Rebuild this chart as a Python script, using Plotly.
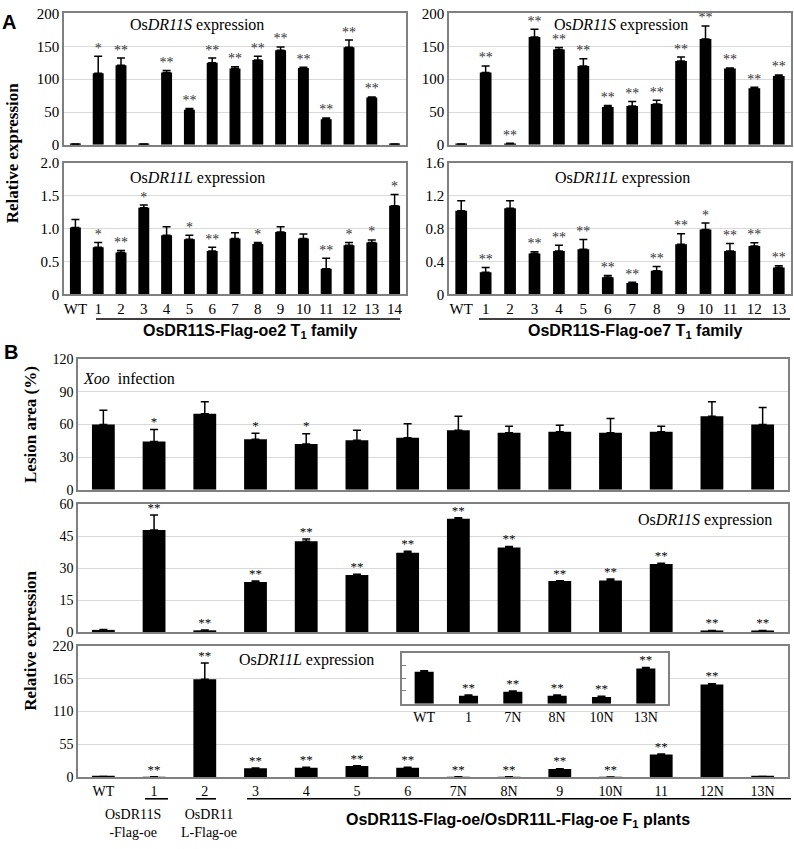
import plotly.graph_objects as go

W, H = 794, 849

# ---------------- Panel A data ----------------
oe2_cats = ["WT", "1", "2", "3", "4", "5", "6", "7", "8", "9", "10", "11", "12", "13", "14"]
oe2_s_val = [1, 109, 121, 1, 110, 53.5, 125, 116, 129, 144, 117, 39, 148.5, 72, 1]
oe2_s_err = [0.5, 26, 11, 0.3, 3, 2, 7, 3, 6, 5, 1, 2, 11, 1, 0.3]
oe2_s_sig = ["", "*", "**", "", "**", "**", "**", "**", "**", "**", "**", "**", "**", "**", ""]

oe2_l_val = [1.02, 0.72, 0.64, 1.32, 0.90, 0.84, 0.66, 0.85, 0.77, 0.95, 0.85, 0.39, 0.75, 0.79, 1.35]
oe2_l_err = [0.12, 0.07, 0.03, 0.04, 0.13, 0.06, 0.06, 0.09, 0.02, 0.08, 0.07, 0.16, 0.04, 0.04, 0.17]
oe2_l_sig = ["", "*", "**", "*", "", "*", "**", "", "*", "", "", "**", "*", "*", "*"]

oe7_cats = ["WT", "1", "2", "3", "4", "5", "6", "7", "8", "9", "10", "11", "12", "13"]
oe7_s_val = [1, 110, 2, 164, 145, 120, 57.5, 59, 62, 127.6, 161, 116, 86, 104.8]
oe7_s_err = [0.5, 10, 0.5, 12, 3, 11, 2.5, 7, 6, 6, 20, 1, 1.5, 1.5]
oe7_s_sig = ["", "**", "**", "**", "**", "**", "**", "**", "**", "**", "**", "**", "**", "**"]

oe7_l_val = [1.02, 0.27, 1.05, 0.50, 0.53, 0.55, 0.21, 0.14, 0.29, 0.61, 0.79, 0.53, 0.59, 0.33]
oe7_l_err = [0.12, 0.06, 0.09, 0.02, 0.07, 0.12, 0.02, 0.01, 0.05, 0.13, 0.08, 0.09, 0.04, 0.02]
oe7_l_sig = ["", "**", "", "**", "**", "**", "**", "**", "**", "**", "*", "**", "**", "**"]

# ---------------- Panel B data ----------------
b_cats = ["WT", "1", "2", "3", "4", "5", "6", "7N", "8N", "9", "10N", "11", "12N", "13N"]
b_lesion_val = [60, 44.4, 69.9, 46.5, 42, 45.6, 47.7, 54.6, 52.5, 53.4, 52.5, 53.4, 67.5, 60]
b_lesion_err = [13, 11, 11, 5.5, 9.6, 9, 13, 13, 6, 6, 13, 5, 13.5, 15.6]
b_lesion_sig = ["", "*", "", "*", "*", "", "", "", "", "", "", "", "", ""]

b_s_val = [1, 48, 0.8, 23.5, 42.7, 26.8, 37.3, 53.3, 39.8, 24, 24.2, 32, 0.6, 0.6]
b_s_err = [0.2, 7, 0.2, 0.5, 1, 0.4, 0.7, 0.4, 0.4, 0.1, 0.7, 0.3, 0.1, 0.1]
b_s_sig = ["", "**", "**", "**", "**", "**", "**", "**", "**", "**", "**", "**", "**", "**"]

b_l_val = [1, 0.5, 164, 15, 16, 18.6, 16, 0.5, 0.5, 13.8, 0.4, 38, 155, 1]
b_l_err = [0.3, 0.1, 27, 0.5, 0.5, 0.5, 0.5, 0.1, 0.1, 0.5, 0.1, 0.7, 1.5, 0.2]
b_l_sig = ["", "**", "**", "**", "**", "**", "**", "**", "**", "**", "**", "**", "**", ""]

inset_cats = ["WT", "1", "7N", "8N", "10N", "13N"]
inset_val = [1.0, 0.25, 0.37, 0.25, 0.21, 1.1]
inset_err = [0.03, 0.02, 0.03, 0.02, 0.02, 0.03]
inset_sig = ["", "**", "**", "**", "**", "**"]

# tick labels
a_s_ticks = [0, 50, 100, 150, 200]
oe2_l_ticks = [0, 0.5, 1.0, 1.5, 2.0]
oe2_l_ticktext = ["0", "0.5", "1.0", "1.5", "2.0"]
oe7_l_ticks = [0, 0.4, 0.8, 1.2, 1.6]
oe7_l_ticktext = ["0", "0.4", "0.8", "1.2", "1.6"]
b_lesion_ticks = [0, 30, 60, 90, 120]
b_s_ticks = [0, 15, 30, 45, 60]
b_l_ticks = [0, 55, 110, 165, 220]
inset_ticks = [0, 0.4, 0.8, 1.2, 1.6]

SERIF = "Liberation Serif, Times New Roman, serif"
NARROW = "Liberation Sans Narrow, Arial Narrow, Liberation Sans, sans-serif"
SANS = "Liberation Sans, Arial, sans-serif"
LINE = "#808080"
GRID = "#d9d9d9"


def px(x):
    return x / W


def py(y):
    return 1 - y / H


fig = go.Figure()
layout_axes = {}


def add_panel(i, cats, vals, errs, sigs, xdom, ydom, yrange, tickvals, ticktext=None,
              showx=False, barw=0.48, star_color="#333333", star_size=14,
              grid=True, tickfs=15, show_yticklabels=True):
    xa = "x" if i == 1 else f"x{i}"
    ya = "y" if i == 1 else f"y{i}"
    fig.add_trace(go.Bar(
        x=cats, y=vals, xaxis=xa, yaxis=ya, width=barw,
        marker=dict(color="black", line=dict(width=0)),
        error_y=dict(type="data", symmetric=False, array=errs, arrayminus=[0] * len(errs),
                     color="black", thickness=1.5, width=4),
        showlegend=False, hoverinfo="x+y",
    ))
    # significance marks only where present
    sx = [c for c, s in zip(cats, sigs) if s]
    sy = [v + e for v, e, s in zip(vals, errs, sigs) if s]
    st = [s for s in sigs if s]
    fig.add_trace(go.Scatter(
        x=sx, y=sy, xaxis=xa, yaxis=ya, mode="text", text=st,
        textposition="top center", cliponaxis=False,
        textfont=dict(family=SERIF, size=star_size, color=star_color),
        showlegend=False, hoverinfo="skip",
    ))
    xkey = "xaxis" if i == 1 else f"xaxis{i}"
    ykey = "yaxis" if i == 1 else f"yaxis{i}"
    layout_axes[xkey] = dict(
        domain=[px(xdom[0]), px(xdom[1])], anchor=ya, type="category",
        categoryorder="array", categoryarray=cats, range=[-0.5, len(cats) - 0.5],
        showline=True, mirror=True, linecolor=LINE, linewidth=1.5,
        showgrid=False, ticks="", showticklabels=showx,
        tickfont=dict(family=SERIF, size=tickfs, color="black"), fixedrange=True,
    )
    layout_axes[ykey] = dict(
        domain=[py(ydom[1]), py(ydom[0])], anchor=xa, range=yrange,
        tickvals=tickvals, ticktext=ticktext if ticktext else [str(t) for t in tickvals],
        showline=True, mirror=True, linecolor=LINE, linewidth=1.5,
        showgrid=grid, gridcolor=GRID, gridwidth=1, zeroline=False, ticks="",
        showticklabels=show_yticklabels,
        tickfont=dict(family=SERIF, size=tickfs, color="black"), fixedrange=True,
    )


# Panel A
add_panel(1, oe2_cats, oe2_s_val, oe2_s_err, oe2_s_sig, (64, 406), (5.5, 139.5), [0, 200], a_s_ticks)
add_panel(2, oe7_cats, oe7_s_val, oe7_s_err, oe7_s_sig, (449, 791), (5.5, 139.5), [0, 200], a_s_ticks)
add_panel(3, oe2_cats, oe2_l_val, oe2_l_err, oe2_l_sig, (64, 406), (158, 292), [0, 2.0],
          oe2_l_ticks, oe2_l_ticktext, showx=True)
add_panel(4, oe7_cats, oe7_l_val, oe7_l_err, oe7_l_sig, (449, 791), (158, 292), [0, 1.6],
          oe7_l_ticks, oe7_l_ticktext, showx=True)
# Panel B
add_panel(5, b_cats, b_lesion_val, b_lesion_err, b_lesion_sig, (78, 788), (358, 491), [0, 120],
          b_lesion_ticks, barw=0.45, star_color="black", star_size=13, tickfs=14)
add_panel(6, b_cats, b_s_val, b_s_err, b_s_sig, (78, 788), (506, 636), [0, 60],
          b_s_ticks, barw=0.45, star_color="black", star_size=13, tickfs=14)
add_panel(7, b_cats, b_l_val, b_l_err, b_l_sig, (78, 788), (650, 784), [0, 220],
          b_l_ticks, showx=True, barw=0.45, star_color="black", star_size=13, tickfs=14)
add_panel(8, inset_cats, inset_val, inset_err, inset_sig, (402, 668), (657, 709), [0, 1.6],
          inset_ticks, showx=True, barw=0.43, star_color="black", star_size=13,
          grid=False, show_yticklabels=False, tickfs=14)
layout_axes["yaxis8"].update(ticks="inside", ticklen=4, tickcolor=LINE)

fig.update_layout(**layout_axes)

shapes = []
# white background for inset (covers main panel gridlines)
shapes.append(dict(type="rect", xref="x8 domain", yref="y8 domain", x0=0, x1=1, y0=0, y1=1,
                   fillcolor="white", line=dict(width=0), layer="below"))
# underlines
for (x0, x1, y) in [(96, 400, 317), (479, 790, 317), (145, 168, 806), (196, 216, 806), (247, 791, 806)]:
    shapes.append(dict(type="line", xref="paper", yref="paper", x0=px(x0), x1=px(x1),
                       y0=py(y), y1=py(y), line=dict(color="black", width=1.6)))

ann = []


def text(x, y, s, size=15, family=SERIF, xanchor="center", angle=0, bold=False):
    ann.append(dict(x=px(x), y=py(y), xref="paper", yref="paper", text=(f"<b>{s}</b>" if bold else s),
                    showarrow=False, xanchor=xanchor, yanchor="middle", textangle=angle,
                    font=dict(family=family, size=size, color="black")))


text(9, 14, "A", size=20, family=SANS, bold=True)
text(11, 351, "B", size=20, family=SANS, bold=True)
text(12, 148, "Relative expression", size=17, angle=-90, bold=True)
text(31, 425, "Lesion area (%)", size=17, angle=-90, bold=True)
text(31, 645, "Relative expression", size=17, angle=-90, bold=True)

text(128, 17, "Os<i>DR11S</i> expression", size=16, xanchor="left")
text(552, 17, "Os<i>DR11S</i> expression", size=16, xanchor="left")
text(128, 173, "Os<i>DR11L</i> expression", size=16, xanchor="left")
text(553, 173, "Os<i>DR11L</i> expression", size=16, xanchor="left")
text(81, 378, "<i>Xoo</i>  infection", size=16, xanchor="left")
text(774, 522, "Os<i>DR11S</i> expression", size=16, xanchor="right")
text(237, 665, "Os<i>DR11L</i> expression", size=16, xanchor="left")

text(250, 330, "OsDR11S-Flag-oe2 T<sub>1</sub> family", size=16, family=NARROW, bold=True)
text(635, 330, "OsDR11S-Flag-oe7 T<sub>1</sub> family", size=16, family=NARROW, bold=True)
text(518, 828, "OsDR11S-Flag-oe/OsDR11L-Flag-oe F<sub>1</sub> plants", size=16, family=NARROW, bold=True)
text(133, 831, "OsDR11S<br>-Flag-oe", size=14)
text(209, 831, "OsDR11<br>L-Flag-oe", size=14)

fig.update_layout(
    width=W, height=H, margin=dict(l=0, r=0, t=0, b=0),
    paper_bgcolor="white", plot_bgcolor="white",
    shapes=shapes, annotations=ann, showlegend=False,
)

fig.write_html("out.html", config={"displayModeBar": False},
               post_script="document.body.style.margin='0px';document.body.style.overflow='hidden';")
